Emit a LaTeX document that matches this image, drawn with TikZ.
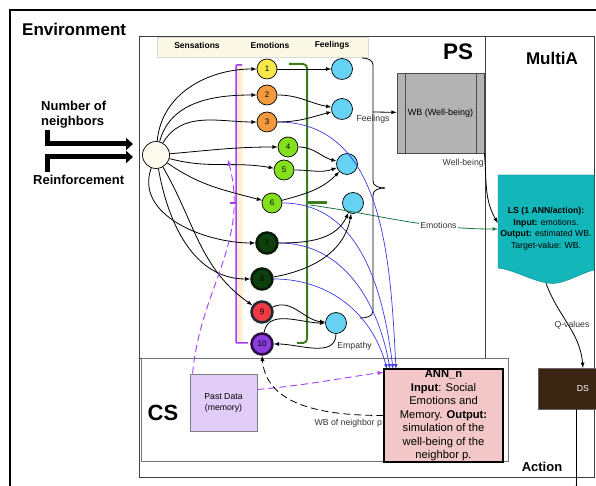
\documentclass[tikz,border=0pt]{standalone}
\usepackage{fontspec}
\setmainfont{Liberation Sans}
\usetikzlibrary{arrows,arrows.meta,scopes,shapes.geometric}
\definecolor{headbeige}{HTML}{FBF9E6}
\definecolor{barbeige}{HTML}{FDEFD3}
\definecolor{feelblue}{HTML}{66D3F4}
\definecolor{emoyellow}{HTML}{F7E84A}
\definecolor{emoorange}{HTML}{F39A3E}
\definecolor{emogreen}{HTML}{84E01C}
\definecolor{emodark}{HTML}{0E400E}
\definecolor{emodarkline}{HTML}{071A07}
\definecolor{emored}{HTML}{F03A44}
\definecolor{emoredline}{HTML}{1D2C31}
\definecolor{emopurple}{HTML}{8B3DE0}
\definecolor{emopurpleline}{HTML}{2B0C3F}
\definecolor{brkpurple}{HTML}{A43CFF}
\definecolor{brkgreen}{HTML}{3D7B1F}
\definecolor{emoline}{HTML}{1F7345}
\definecolor{annblue}{HTML}{3B3BE3}
\definecolor{wbgray}{HTML}{B3B3B3}
\definecolor{lsteal}{HTML}{13B7B9}
\definecolor{lsedge}{HTML}{0B8587}
\definecolor{dsbrown}{HTML}{3A2513}
\definecolor{annpink}{HTML}{F3C7C7}
\definecolor{pastlilac}{HTML}{E2CDF8}
\definecolor{infill}{HTML}{FCFBEE}
\tikzstyle{emotion} = [circle, draw=black, line width=0.7pt, minimum size=20pt, inner sep=0pt, font=\fontsize{8}{9}\selectfont]
\tikzstyle{darkemo} = [emotion, minimum size=21pt, line width=2.5pt]
\tikzstyle{feeling} = [circle, draw=black, line width=0.7pt, fill=feelblue, minimum size=21pt, inner sep=0pt]
\tikzstyle{lbl} = [font=\fontsize{8.7}{10}\selectfont, inner sep=1pt, text=black!80]
\tikzstyle{hdr} = [font=\bfseries\fontsize{8.5}{10}\selectfont, inner sep=0pt]
\tikzstyle{bigtitle} = [font=\bfseries\fontsize{17}{20}\selectfont, inner sep=0pt]
\tikzstyle{sysbox} = [draw=black!75, thick]
\tikzstyle{blueline} = [draw=annblue, line width=0.7pt, -latex]
\tikzstyle{pdash} = [draw=brkpurple, line width=0.9pt, dash pattern=on 7pt off 4pt, -latex]
\tikzstyle{bdash} = [line width=0.8pt, dash pattern=on 7pt off 4pt, -latex]
\tikzstyle{feed} = [line width=5pt, -{Triangle[length=7pt,width=12pt]}]
\tikzstyle{wbbox} = [rectangle, fill=wbgray, draw=black!70, thick, minimum width=87pt, minimum height=80pt, font=\fontsize{9}{10}\selectfont]
\tikzstyle{lstext} = [rectangle, minimum width=96pt, minimum height=108pt, inner sep=0pt, align=center, font=\fontsize{8.7}{11.5}\selectfont]
\tikzstyle{dsbox} = [rectangle, fill=dsbrown, draw=black!60, minimum width=90pt, minimum height=41pt, text=white, font=\fontsize{8.7}{10}\selectfont]
\tikzstyle{annbox} = [rectangle, fill=annpink, draw=black, line width=1.5pt, minimum width=119pt, minimum height=93pt, inner sep=0pt, align=center, font=\fontsize{11.2}{13.5}\selectfont]
\tikzstyle{pdbox} = [rectangle, fill=pastlilac, draw=black!50, thick, minimum width=67pt, minimum height=57pt, align=center, font=\fontsize{8.7}{11}\selectfont]

\begin{document}
\begin{tikzpicture}[x=1pt,y=1pt]
    \useasboundingbox (0,0) rectangle (596,486);
    \clip (0,0) rectangle (596,486);
    % frames
    \draw[line width=2.5pt] (10,-20) -- (10,476) -- (620,476);
    \draw[sysbox] (139,9) rectangle (594,450);
    \draw[sysbox] (485,450) -- (485,128) -- (139,128);
    \draw[sysbox, draw=black!55] (141,25) rectangle (508,128);
    \node[bigtitle, anchor=west] (ENV) at (22,457) {Environment};
    \node[bigtitle, font=\bfseries\fontsize{22.5}{24}\selectfont] (PS) at (458,434) {PS};
    \node[bigtitle] (MA) at (552,428) {MultiA};
    \node[bigtitle, font=\bfseries\fontsize{22}{24}\selectfont] (CS) at (163,73) {CS};
    % header
    \node[rectangle, fill=headbeige, draw=black!15, minimum width=211pt, minimum height=20pt] (HDR) at (262.5,439) {};
    \node[hdr] (HS) at (197,441) {Sensations};
    \node[hdr] (HE) at (270,441) {Emotions};
    \node[hdr] (HF) at (332,441) {Feelings};
    % brackets
    \fill[barbeige] (237,143) rectangle (243,421);
    \draw[brkpurple, line width=1.5pt, rounded corners=1pt] (242,421) -- (236,421) -- (236,143) -- (248,143);
    \draw[brkpurple, line width=1.5pt] (230,283) -- (236,283);
    \draw[brkgreen, line width=2pt, rounded corners=4pt] (289,422) -- (307,422) -- (307,143) -- (297,143);
    \draw[brkgreen, line width=3pt] (307,283) -- (327,283);
    \draw[line width=0.8pt] (362,428) to[out=0,in=90] (373,421) -- (373,305) to[out=-90,in=180] (385,298);
    \draw[line width=0.8pt] (385,298) to[out=180,in=90] (373,291) -- (373,175) to[out=-90,in=0] (360,168);
    \coordinate (GT) at (310,281);
    \coordinate (FB) at (373,374);
    \coordinate (SB) at (228,326);
    \coordinate (NBbar) at (47,356);
    \coordinate (RFbar) at (47,314);
    \coordinate (ACTend) at (576,-5);
    % LS shape
    \filldraw[fill=lsteal, draw=lsedge] (498,311) -- (594,311) -- (594,216) .. controls (578,212) and (562,200) .. (547,203) .. controls (530,206) and (514,216) .. (498,218) -- cycle;
    % nodes
    \node[circle, draw=black, line width=0.7pt, fill=infill, minimum size=27pt] (IN) at (156,331) {};
    \node[anchor=west, align=left, inner sep=0pt, font=\bfseries\fontsize{13}{15}\selectfont] (NB) at (41,371.5) {Number of\\neighbors};
    \node[anchor=west, inner sep=0pt, font=\bfseries\fontsize{13}{15}\selectfont] (RF) at (33,306) {Reinforcement};
    \node[emotion, fill=emoyellow] (E1) at (267,417) {1};
    \node[emotion, fill=emoorange] (E2) at (267,391) {2};
    \node[emotion, fill=emoorange] (E3) at (267,364) {3};
    \node[emotion, fill=emogreen] (E4) at (288,339) {4};
    \node[emotion, fill=emogreen] (E5) at (284,316) {5};
    \node[emotion, fill=emogreen] (E6) at (272,283) {6};
    \node[darkemo, fill=emodark, draw=emodarkline] (E7) at (267,243) {7};
    \node[darkemo, fill=emodark, draw=emodarkline] (E8) at (262,207) {8};
    \node[darkemo, fill=emored, draw=emoredline] (E9) at (262,174) {9};
    \node[darkemo, fill=emopurple, draw=emopurpleline] (E10) at (262,142) {10};
    \node[feeling] (F1) at (342,417) {};
    \node[feeling] (F2) at (342,377) {};
    \node[feeling] (F3) at (347,322) {};
    \node[feeling] (F4) at (353,283) {};
    \node[feeling] (F5) at (336,163) {};
    \node[wbbox] (WB) at (440.5,373) {WB (Well-being)};
    \draw[black!70, thick] ([xshift=9pt]WB.north west) -- ([xshift=9pt]WB.south west);
    \draw[black!70, thick] ([xshift=-8pt]WB.north east) -- ([xshift=-8pt]WB.south east);
    \node[lstext] (LS) at (546,257) {\textbf{LS (1 ANN/action):}\\\textbf{Input:} emotions.\\\textbf{Output:} estimated WB.\\Target-value: WB.};
    \node[dsbox] (DS) at (583,97.5) {DS};
    \node[pdbox] (PD) at (223.5,83.5) {Past Data\\(memory)};
    \node[font=\bfseries\fontsize{13}{15}\selectfont, inner sep=0pt] (ACT) at (542,19) {Action};
    % blue lines to ANN
    \draw[blueline] (E3) to[out=0,in=93] (396,117);
    \draw[blueline] (E6) to[out=0,in=97] (393,117);
    \draw[blueline] (E7) to[out=0,in=100] (390,117);
    \draw[blueline] (E8) to[out=0,in=105] (387,117);
    \node[annbox] (ANN) at (443.5,70.5) {\textbf{ANN\_n}\\\textbf{Input}: Social\\Emotions and\\Memory. \textbf{Output:}\\simulation of the\\well-being of the\\neighbor p.};
    \draw[feed, shorten >=23pt] (NBbar) |- ([yshift=11pt]IN.center);
    \draw[feed, shorten >=23pt] (RFbar) |- ([yshift=-2pt]IN.center);
    \begin{scope}[-latex, line width=0.8pt]
        \draw (IN) to[out=85,in=180] (E1);
        \draw (IN) to[out=75,in=180] (E2);
        \draw (IN) to[out=60,in=180] (E3);
        \draw (IN) to[out=5,in=180] (E4);
        \draw (IN) to[out=-15,in=170] (E5);
        \draw (IN) to[out=-35,in=165] (E6);
        \draw (IN) to[out=-110,in=180] (E7);
        \draw (IN) to[out=-80,in=180] (E8);
        \draw (IN) to[out=-60,in=145] (E9);
        \draw (E1) -- (F1);
        \draw (E2) to[out=0,in=170] (F2);
        \draw (E3) to[out=0,in=195] (F2);
        \draw (E4) to[out=0,in=165] (F3);
        \draw (E5) to[out=0,in=200] (F3);
        \draw (E6) to[out=15,in=225] (F3);
        \draw (E7) to[out=0,in=245] (F4);
        \draw (E8) to[out=10,in=260] (F4);
        \draw (E9) to[out=25,in=175] (F5);
        \draw (E10) to[out=80,in=180] (F5);
        \draw (F5) to[out=-90,in=0] node[at start, anchor=north west, lbl, yshift=-7pt] {Empathy} (E10);
        \draw (FB) -- node[at start, below, lbl, yshift=-2pt] {Feelings} (WB);
        \draw (WB.south east) to[out=-85,in=120] node[pos=0.12, anchor=east, lbl] {Well-being} ([yshift=6pt]LS.west);
        \draw[emoline] (GT) to[out=-8,in=180] node[pos=0.7, fill=white, lbl] {Emotions} (LS.west);
        \draw (LS.south) to[out=-70,in=95] node[pos=0.5, lbl, xshift=4pt] {Q-values} (DS.north);
        \draw ([xshift=-7pt]DS.south) -- (ACTend);
    \end{scope}
    \draw[pdash] ([xshift=3pt]PD.north west) to[out=85,in=-75] (SB);
    \draw[pdash] ([yshift=13pt]PD.east) to[out=5,in=188] ([yshift=-4pt]ANN.north west);
    \draw[bdash] (ANN.west) to[out=180,in=-85] node[at start, anchor=north east, lbl, yshift=-2pt] {WB of neighbor p} (E10.south);
\end{tikzpicture}
\end{document}
